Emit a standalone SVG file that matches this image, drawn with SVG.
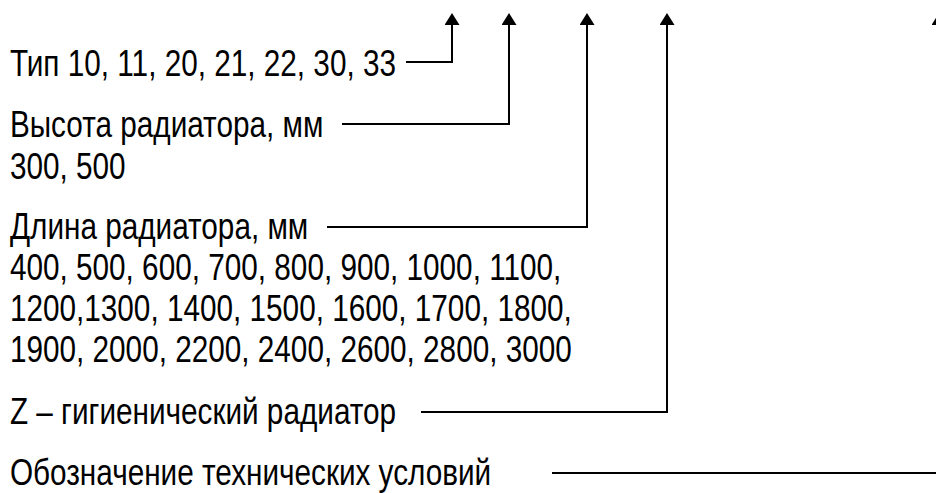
<svg xmlns="http://www.w3.org/2000/svg" width="936" height="493" viewBox="0 0 936 493">
  <style>
    .lbl { font-family: "Liberation Sans", Arial, sans-serif; font-size: 36px; fill: #000; }
    .lead { fill: none; stroke: #000; stroke-width: 2; marker-end: url(#head); }
  </style>
  <defs>
    <marker id="head" markerUnits="userSpaceOnUse" viewBox="0 0 12 15" refX="0" refY="7.5" markerWidth="12" markerHeight="15" orient="auto">
      <path d="M0,0 L12,7.5 L0,15 Z" fill="#000"/>
    </marker>
  </defs>
  <rect width="936" height="493" fill="#fff"/>

  <!-- Labels, narrowed by horizontal scaling -->
  <g transform="scale(0.826,1)">
    <g id="type">
      <text class="lbl" x="12" y="76">Тип 10, 11, 20, 21, 22, 30, 33</text>
    </g>
    <g id="height">
      <text class="lbl" x="12" y="137">Высота радиатора, мм</text>
      <text class="lbl" x="12" y="179">300, 500</text>
    </g>
    <g id="length">
      <text class="lbl" x="12" y="239">Длина радиатора, мм</text>
      <text class="lbl" x="12" y="280">400, 500, 600, 700, 800, 900, 1000, 1100,</text>
      <text class="lbl" x="12" y="321">1200,1300, 1400, 1500, 1600, 1700, 1800,</text>
      <text class="lbl" x="12" y="362">1900, 2000, 2200, 2400, 2600, 2800, 3000</text>
    </g>
    <g id="hygienic">
      <text class="lbl" x="12" y="424">Z – гигиенический радиатор</text>
    </g>
    <g id="spec">
      <text class="lbl" x="12" y="485">Обозначение технических условий</text>
    </g>
  </g>

  <!-- Leader lines with arrowheads pointing up to the code -->
  <g id="connectors">
    <path class="lead" d="M406,62 H452 V25"/>
    <path class="lead" d="M342,124 H509 V25"/>
    <path class="lead" d="M327,227 H587 V25"/>
    <path class="lead" d="M421,412 H667 V25"/>
    <path class="lead" d="M552,473 H939 V25"/>
  </g>
</svg>
